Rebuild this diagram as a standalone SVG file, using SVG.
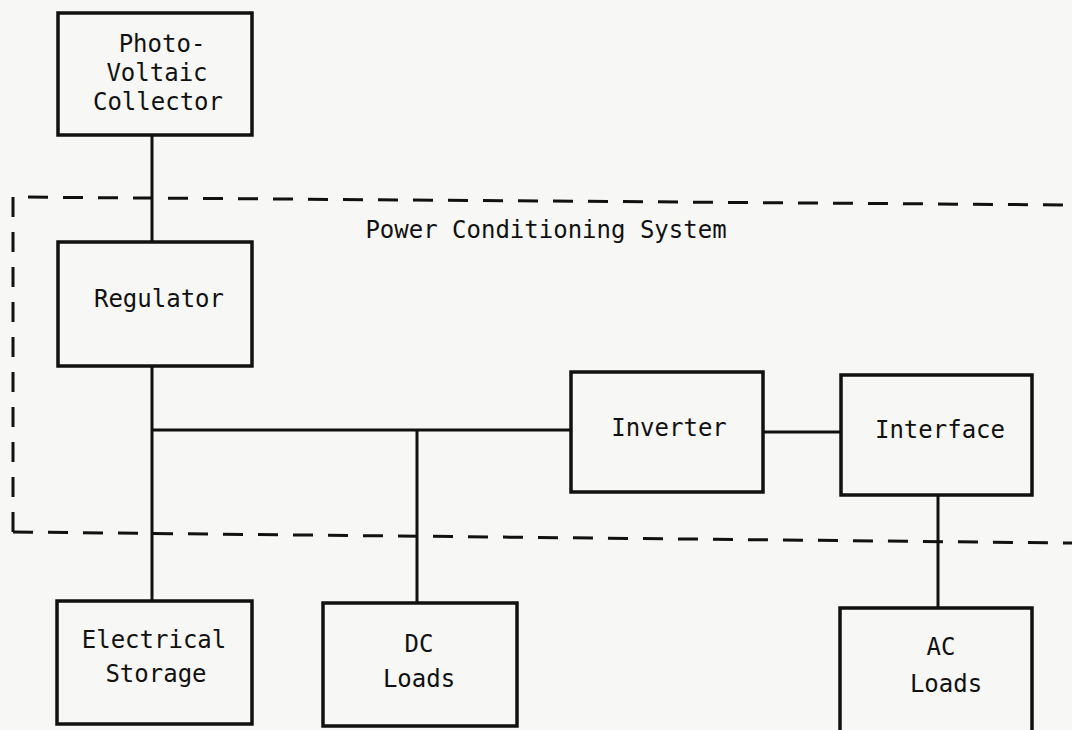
<svg xmlns="http://www.w3.org/2000/svg" width="1072" height="730" viewBox="0 0 1072 730">
<style>
.box{fill:none;stroke:#111;stroke-width:3.5}
.ln{fill:none;stroke:#111;stroke-width:3}
.dash{fill:none;stroke:#111;stroke-width:3;stroke-dasharray:20 15}
text{font-family:"DejaVu Sans Mono","Liberation Mono",monospace;font-size:24px;fill:#111;text-anchor:middle}
</style>
<rect width="1072" height="730" fill="#f7f7f5"/>
<g id="boundary">
<path class="dash" d="M13 532 L13 197 L1072 205"/>
<path class="dash" d="M13 532 L1072 543"/>
<text x="546" y="238">Power Conditioning System</text>
</g>
<g id="connectors">
<path class="ln" d="M152 135 V242"/>
<path class="ln" d="M152 366 V601"/>
<path class="ln" d="M152 430 H571"/>
<path class="ln" d="M417 430 V603"/>
<path class="ln" d="M763 432 H841"/>
<path class="ln" d="M938 495 V608"/>
</g>
<g id="photovoltaic">
<rect class="box" x="58" y="13" width="194" height="122"/>
<text x="162" y="52">Photo-</text>
<text x="157" y="81">Voltaic</text>
<text x="158" y="110">Collector</text>
</g>
<g id="regulator">
<rect class="box" x="58" y="242" width="194" height="124"/>
<text x="159" y="307">Regulator</text>
</g>
<g id="inverter">
<rect class="box" x="571" y="372" width="192" height="120"/>
<text x="669" y="436">Inverter</text>
</g>
<g id="interface">
<rect class="box" x="841" y="375" width="191" height="120"/>
<text x="940" y="438">Interface</text>
</g>
<g id="storage">
<rect class="box" x="57" y="601" width="195" height="123"/>
<text x="154" y="648">Electrical</text>
<text x="156" y="682">Storage</text>
</g>
<g id="dcloads">
<rect class="box" x="323" y="603" width="194" height="123"/>
<text x="419" y="652">DC</text>
<text x="419" y="687">Loads</text>
</g>
<g id="acloads">
<rect class="box" x="840" y="608" width="192" height="130"/>
<text x="941" y="655">AC</text>
<text x="946" y="692">Loads</text>
</g>
</svg>
